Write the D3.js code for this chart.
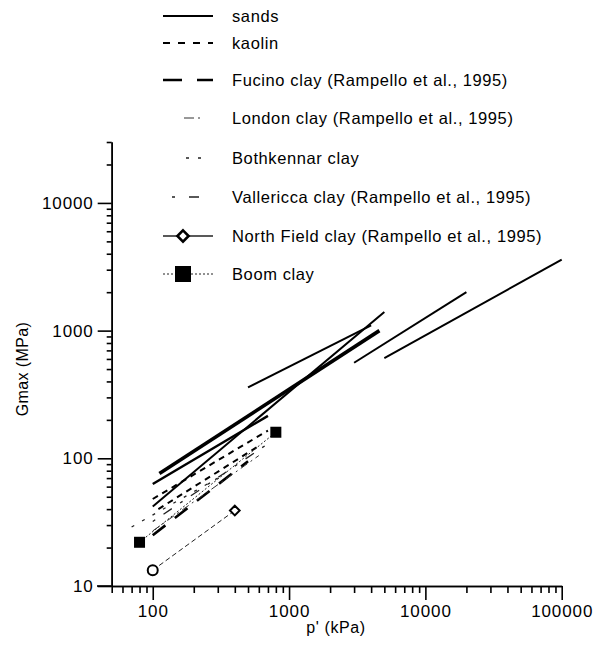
<!DOCTYPE html>
<html><head><meta charset="utf-8">
<script src="https://cdn.jsdelivr.net/npm/d3@7"></script>
<style>
body{margin:0;background:#fff;}
svg{display:block;}
text{font-family:"Liberation Sans",Arial,Helvetica,sans-serif;fill:#000;}
</style></head>
<body>
<svg id="c" width="599" height="659"></svg>
<script>
// ---- data ----
const seriesNames = ["sands","kaolin","Fucino clay (Rampello et al., 1995)","London clay (Rampello et al., 1995)","Bothkennar clay","Vallericca clay (Rampello et al., 1995)","North Field clay (Rampello et al., 1995)","Boom clay"];
const sandsP = [[500,4000],[100,5000],[112,4600],[100,700],[3000,20000],[5000,100000]];
const sandsG = [[360,1100],[42,1400],[76,1000],[63,215],[560,2000],[610,3600]];
const kaolinP = [[100,700],[110,600]];
const kaolinG = [[48,165],[40,125]];
const fucinoP = [100,500];
const fucinoG = [25,95];
const londonP = [100,600];
const londonG = [27,105];
const bothkennarP = [70,300];
const bothkennarG = [29,70];
const vallericcaP = [100,700];
const vallericcaG = [32,130];
const northFieldP = [100,400];
const northFieldG = [13.3,39];
const boomP = [80,800];
const boomG = [22,160];
const xMajorTicks = [100,1000,10000,100000];
const yMajorTicks = [10,100,1000,10000];
const xTitle = "p' (kPa)";
const yTitle = "Gmax (MPa)";

const svg = d3.select("#c");
const x = d3.scaleLog().domain([50,100000]).range([111.7,561.7]);
const y = d3.scaleLog().domain([10,30000]).range([586,142]);

function minors(lo,hi){const r=[];for(let d=1;d<=100000;d*=10){for(let k=2;k<10;k++){const v=k*d;if(v>=lo&&v<=hi)r.push(v);}}return r;}

// axes
const gx = svg.append("g").attr("transform","translate(0,586)");
gx.call(d3.axisBottom(x).tickValues(minors(50,100000)).tickSize(7).tickSizeOuter(0).tickFormat(""));
gx.append("g").call(d3.axisBottom(x).tickValues(xMajorTicks).tickSize(14).tickSizeOuter(0).tickPadding(4).tickFormat(d3.format("d")));
const gy = svg.append("g").attr("transform","translate(111.7,0)");
gy.call(d3.axisLeft(y).tickValues(minors(10,30000)).tickSize(5).tickSizeOuter(0).tickFormat(""));
gy.append("g").call(d3.axisLeft(y).tickValues(yMajorTicks).tickSize(14).tickSizeOuter(0).tickPadding(4).tickFormat(d3.format("d")));
svg.selectAll(".domain").attr("stroke","#000").attr("stroke-width",1.6);
svg.selectAll(".tick line").attr("stroke","#000").attr("stroke-width",1.6);
svg.selectAll(".tick text").attr("font-size",17).attr("letter-spacing","0.9px").style("font-family","'Liberation Sans',Arial,sans-serif");
gx.selectAll(".tick text").attr("dy","0.78em");
svg.append("line").attr("x1",97).attr("x2",111.7).attr("y1",y(10)).attr("y2",y(10)).attr("stroke","#000").attr("stroke-width",1.6);

svg.append("text").attr("x",336).attr("y",633).attr("text-anchor","middle").attr("font-size",16).attr("letter-spacing","0.6px").text(xTitle);
svg.append("text").attr("transform","translate(28,369) rotate(-90)").attr("text-anchor","middle").attr("font-size",16).attr("letter-spacing","0.4px").text(yTitle);

const line = d3.line().x(d=>x(d[0])).y(d=>y(d[1]));
const zip=(P,G)=>P.map((p,i)=>[p,G[i]]);

const styles = [
 {dash:null,w:2,c:"#000",leg:null},
 {dash:"6,5",w:2,c:"#000",leg:"7,8"},
 {dash:"16,12",w:2.6,c:"#000",leg:"19,15"},
 {dash:"8,4,2,4",w:1,c:"#333",leg:"10,4,2,30"},
 {dash:"3,9",w:1.3,c:"#222",leg:"3,9"},
 {dash:"3,10,10,10",w:1.3,c:"#222",leg:"3,14,10,30"},
 {dash:"5,3",w:1,c:"#222",leg:null},
 {dash:"2,2",w:1,c:"#222",leg:"2,2"}
];
function draw(data,s,w){svg.append("path").attr("d",line(data)).attr("fill","none").attr("stroke",s.c).attr("stroke-width",w||s.w).attr("stroke-dasharray",s.dash);}

sandsP.forEach((P,i)=>draw(zip(P,sandsG[i]),styles[0], i===2?3.6:(i===3?2.4:2)));
kaolinP.forEach((P,i)=>draw(zip(P,kaolinG[i]),styles[1]));
draw(zip(fucinoP,fucinoG),styles[2]);
draw(zip(londonP,londonG),styles[3]);
draw(zip(bothkennarP,bothkennarG),styles[4]);
draw(zip(vallericcaP,vallericcaG),styles[5]);
draw(zip(northFieldP,northFieldG),styles[6]);
draw(zip(boomP,boomG),styles[7]);

// markers
const nf = zip(northFieldP,northFieldG);
svg.append("circle").attr("cx",x(nf[0][0])).attr("cy",y(nf[0][1])).attr("r",5).attr("fill","#fff").attr("stroke","#000").attr("stroke-width",2);
svg.append("path").attr("d",d3.symbol(d3.symbolDiamond2,60)()).attr("transform",`translate(${x(nf[1][0])},${y(nf[1][1])})`).attr("fill","#fff").attr("stroke","#000").attr("stroke-width",2);
zip(boomP,boomG).forEach(d=>svg.append("rect").attr("x",x(d[0])-5.5).attr("y",y(d[1])-5.5).attr("width",11).attr("height",11).attr("fill","#000"));

// legend
const rowsY = [16,43,80,118,158,197,236,274];
const leg = svg.append("g");
seriesNames.forEach((n,i)=>{
  const s = styles[i];
  const ry = rowsY[i];
  let x1=163,x2=213;
  if(i===3){x1=184;x2=210;}
  if(i===4){x1=186;x2=204;}
  if(i===5){x1=172;x2=206;}
  leg.append("line").attr("x1",x1).attr("x2",x2).attr("y1",ry).attr("y2",ry).attr("stroke",s.c).attr("stroke-width",i===0?2:(i===6?1.3:s.w)).attr("stroke-dasharray",s.leg);
  if(i===6){leg.append("path").attr("d",d3.symbol(d3.symbolDiamond2,80)()).attr("transform",`translate(183,${ry})`).attr("fill","#fff").attr("stroke","#000").attr("stroke-width",2.6);}
  if(i===7){leg.append("rect").attr("x",175).attr("y",ry-8).attr("width",16).attr("height",16).attr("fill","#000");}
  leg.append("text").attr("x",232).attr("y",ry).attr("dy","0.35em").attr("font-size",16.5).attr("letter-spacing","0.6px").text(n);
});
</script>
</body></html>
